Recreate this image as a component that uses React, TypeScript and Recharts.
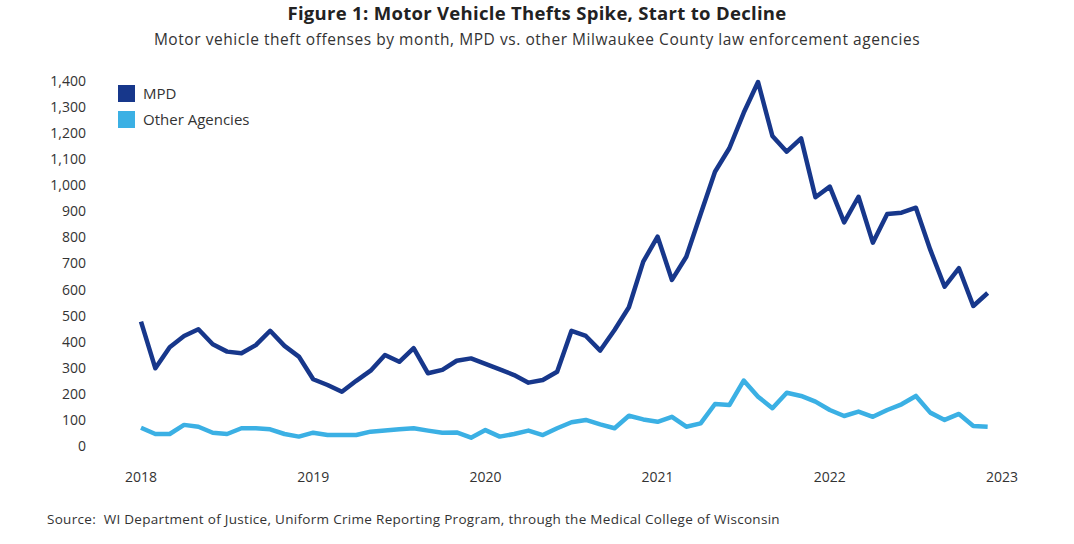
import { LineChart, Line, XAxis, YAxis } from 'recharts'

// monthly offense counts, Jan 2018 .. Dec 2022
const months = Array.from({ length: 60 }, (_, i) => i)
const yearTicks = [2018, 2019, 2020, 2021, 2022, 2023]
const valueTicks = [0, 100, 200, 300, 400, 500, 600, 700, 800, 900, 1000, 1100, 1200, 1300, 1400]

const mpd = [
  477, 298, 379, 422, 448, 390, 362, 356, 387, 442, 384, 343,
  256, 234, 208, 250, 289, 349, 323, 375, 279, 292, 327, 336,
  315, 294, 272, 243, 253, 285, 442, 422, 366, 445, 532, 707,
  803, 637, 726, 890, 1052, 1142, 1278, 1396, 1189, 1129, 1180, 954,
  995, 858, 956, 780, 890, 895, 914, 753, 611, 682, 537, 587,
]

const otherAgencies = [
  70, 46, 46, 81, 74, 51, 46, 68, 68, 64, 46, 36,
  51, 42, 42, 42, 55, 59, 64, 68, 59, 51, 52, 32,
  61, 36, 46, 59, 42, 68, 91, 100, 83, 68, 116, 102,
  93, 112, 74, 87, 161, 157, 251, 189, 145, 204, 192, 170,
  138, 115, 132, 112, 138, 160, 192, 128, 100, 123, 77, 74,
]

const MPD_COLOR = '#17378b'
const OTHER_COLOR = '#3bb0e4'
const FONT = '"Open Sans", sans-serif'

export default function App() {
  const data = months.map(i => ({ t: i, mpd: mpd[i], other: otherAgencies[i] }))

  return (
    <div style={{ position: 'relative', width: 1074, height: 544, background: '#fff', fontFamily: FONT, color: '#333' }}>
      <style>{'body{margin:0}'}</style>
      <div style={{ position: 'absolute', top: 0, left: 0, width: 1074, textAlign: 'center', fontSize: 18.5, fontWeight: 700, letterSpacing: 0.3, color: '#222' }}>
        Figure 1: Motor Vehicle Thefts Spike, Start to Decline
      </div>
      <div style={{ position: 'absolute', top: 28, left: 0, width: 1074, textAlign: 'center', fontSize: 15.5, letterSpacing: 0.55, color: '#333' }}>
        Motor vehicle theft offenses by month, MPD vs. other Milwaukee County law enforcement agencies
      </div>

      <LineChart width={1074} height={544} data={data} margin={{ top: 81, right: 72, bottom: 58, left: 0 }}>
        <XAxis
          dataKey="t"
          type="number"
          domain={[0, 60]}
          ticks={yearTicks.map(y => (y - 2018) * 12)}
          tickFormatter={v => String(2018 + v / 12)}
          axisLine={false}
          tickLine={false}
          tickSize={0}
          tickMargin={26}
          height={40}
          tick={{ fontSize: 14, fill: '#333', fontFamily: FONT }}
        />
        <YAxis
          domain={[0, 1400]}
          ticks={valueTicks}
          tickFormatter={v => v.toLocaleString('en-US')}
          axisLine={false}
          tickLine={false}
          tickSize={0}
          tickMargin={55}
          width={141}
          interval={0}
          tick={{ fontSize: 14, fill: '#333', fontFamily: FONT }}
        />
        <Line type="linear" dataKey="mpd" stroke={MPD_COLOR} strokeWidth={4.5} dot={false} isAnimationActive={false} strokeLinejoin="round" />
        <Line type="linear" dataKey="other" stroke={OTHER_COLOR} strokeWidth={4.5} dot={false} isAnimationActive={false} strokeLinejoin="round" />
      </LineChart>

      <div style={{ position: 'absolute', left: 118, top: 80, fontSize: 15 }}>
        {[{ name: 'MPD', color: MPD_COLOR }, { name: 'Other Agencies', color: OTHER_COLOR }].map(item => (
          <div key={item.name} style={{ display: 'flex', alignItems: 'center', height: 26 }}>
            <span style={{ display: 'inline-block', width: 17, height: 17, background: item.color, marginRight: 8 }} />
            <span>{item.name}</span>
          </div>
        ))}
      </div>

      <div style={{ position: 'absolute', left: 47, top: 510, fontSize: 13.5, letterSpacing: 0.3, color: '#333' }}>
        Source:&nbsp; WI Department of Justice, Uniform Crime Reporting Program, through the Medical College of Wisconsin
      </div>
    </div>
  )
}
